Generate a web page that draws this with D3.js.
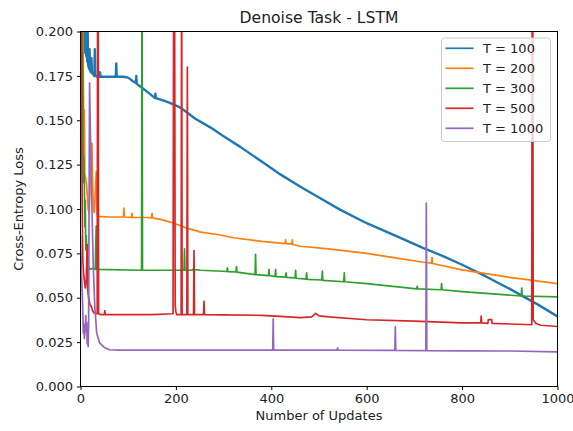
<!DOCTYPE html>
<html>
<head>
<meta charset="utf-8">
<script src="https://cdn.jsdelivr.net/npm/d3@7"></script>
<style>
  body { margin: 0; background: #fff; }
  svg { display: block; font-family: "DejaVu Sans", sans-serif; }
</style>
</head>
<body>
<div id="chart"></div>
<script>
// values: [update, loss]
const t100 = [
  [0, 0.26], [3, 0.23], [5, 0.21], [6, 0.198], [7, 0.215], [8, 0.192], [9, 0.21],
  [10, 0.188], [11, 0.205], [12, 0.186], [13, 0.19], [14, 0.183], [15, 0.2],
  [16, 0.181], [18, 0.179], [19, 0.19], [20, 0.178], [22, 0.177], [23, 0.185],
  [24, 0.177], [26, 0.176], [29, 0.175], [30, 0.19], [31, 0.175], [35, 0.1745],
  [40, 0.1745], [41, 0.177], [42, 0.1745], [74, 0.1745], [75, 0.182], [76, 0.1745],
  [90, 0.1745], [100, 0.174], [110, 0.172], [116, 0.171], [117, 0.175], [118, 0.1705],
  [130, 0.168], [145, 0.165], [156, 0.1625], [157, 0.165], [158, 0.1625], [175, 0.161],
  [195, 0.159], [210, 0.157], [240, 0.151], [272, 0.146], [300, 0.141], [335, 0.135],
  [392, 0.1245], [419, 0.1195], [461, 0.1125], [500, 0.1065], [545, 0.0995], [600, 0.092],
  [660, 0.085], [719, 0.078], [760, 0.0735], [800, 0.0686], [850, 0.062], [900, 0.055],
  [930, 0.0505], [960, 0.046], [1000, 0.0395]
];

const t200 = [
  [0, 0.26], [3, 0.2], [5, 0.21], [7, 0.14], [8, 0.156], [9, 0.12], [11, 0.117],
  [13, 0.113], [16, 0.1], [18, 0.098], [20, 0.11], [22, 0.125], [24, 0.137], [25, 0.12],
  [27, 0.1], [29, 0.098], [31, 0.11], [33, 0.121], [35, 0.097], [38, 0.0958],
  [60, 0.0955], [90, 0.0955], [91, 0.1005], [92, 0.0955], [107, 0.0953], [108, 0.0975],
  [109, 0.0953], [140, 0.0952], [149, 0.095], [150, 0.0975], [151, 0.095], [170, 0.094],
  [190, 0.0925], [196, 0.092], [220, 0.0895], [252, 0.087], [290, 0.0855], [321, 0.0838],
  [380, 0.0818], [429, 0.0805], [430, 0.0826], [431, 0.0805], [443, 0.0802], [444, 0.0826],
  [445, 0.08], [461, 0.079], [520, 0.0775], [600, 0.075], [660, 0.0725], [719, 0.07],
  [736, 0.0695], [737, 0.0727], [738, 0.0693], [800, 0.0657], [900, 0.0615], [1000, 0.058]
];

const t300 = [
  [0, 0.26], [3, 0.23], [4, 0.2], [5, 0.16], [6, 0.115], [7, 0.13], [8, 0.115],
  [9, 0.09], [10, 0.105], [11, 0.077], [12, 0.085], [14, 0.07], [15, 0.055], [16, 0.068],
  [18, 0.067], [20, 0.066], [25, 0.0665], [31, 0.066], [32, 0.08], [33, 0.0905],
  [34, 0.066], [128, 0.0655], [129, 0.26], [130, 0.0655], [217, 0.0655], [218, 0.0776],
  [219, 0.0655], [234, 0.0655], [235, 0.066], [240, 0.0658], [252, 0.0655], [307, 0.0648],
  [308, 0.0668], [309, 0.0647], [326, 0.0645], [327, 0.0675], [328, 0.0644], [366, 0.063],
  [367, 0.0745], [368, 0.063], [394, 0.0625], [395, 0.066], [396, 0.0624], [408, 0.062],
  [409, 0.066], [410, 0.0619], [430, 0.0616], [431, 0.064], [432, 0.0615], [450, 0.0612],
  [451, 0.0655], [452, 0.061], [473, 0.0605], [474, 0.064], [475, 0.0604], [506, 0.06],
  [507, 0.065], [508, 0.0598], [552, 0.059], [553, 0.064], [554, 0.059], [600, 0.058],
  [705, 0.055], [706, 0.0565], [707, 0.055], [756, 0.0545], [757, 0.058], [758, 0.0545],
  [800, 0.0535], [924, 0.051], [925, 0.0554], [926, 0.051], [1000, 0.0505]
];

const t500 = [
  [0, 0.26], [2, 0.2], [3, 0.12], [4, 0.09], [5, 0.07], [7, 0.062], [9, 0.058],
  [10, 0.0556], [12, 0.06], [14, 0.08], [15, 0.055], [17, 0.05], [20, 0.046], [23, 0.045],
  [25, 0.043], [28, 0.0415], [35, 0.041], [36, 0.26], [37, 0.26], [38, 0.041],
  [42, 0.0405], [50, 0.0405], [51, 0.0428], [52, 0.0405], [150, 0.0405], [194, 0.041],
  [195.5, 0.26], [197, 0.26], [198.5, 0.046], [200, 0.042], [202, 0.0405], [211, 0.0405],
  [212, 0.26], [213, 0.0405], [223, 0.0405], [224, 0.18], [225, 0.0405], [237, 0.0405],
  [238, 0.0765], [239, 0.0405], [258, 0.0405], [259, 0.048], [260, 0.0405], [300, 0.0403],
  [380, 0.0401], [419, 0.0395], [461, 0.0388], [485, 0.0392], [493, 0.0412], [500, 0.0398],
  [520, 0.0392], [600, 0.0376], [700, 0.0368], [800, 0.0359], [839, 0.0358], [840, 0.0396],
  [841, 0.0358], [854, 0.0356], [855, 0.0377], [862, 0.0377], [863, 0.0356], [900, 0.0352],
  [946, 0.0348], [947, 0.26], [948, 0.26], [949, 0.0376], [955, 0.0355], [965, 0.0345],
  [1000, 0.0338]
];

const t1000 = [
  [0, 0.085], [2, 0.065], [4, 0.05], [5, 0.04], [6, 0.03], [7, 0.035], [8, 0.027],
  [10, 0.033], [11, 0.04], [12, 0.031], [13, 0.036], [14, 0.024], [15, 0.03], [16, 0.0225],
  [17, 0.035], [19, 0.171], [21, 0.14], [24, 0.1], [27, 0.066], [30, 0.045], [34, 0.03],
  [40, 0.0246], [50, 0.022], [61, 0.0207], [80, 0.0205], [403, 0.0205], [404, 0.038],
  [405, 0.0205], [538, 0.0205], [539, 0.0217], [540, 0.0205], [659, 0.0203], [660, 0.0338],
  [661, 0.0203], [724, 0.0202], [725, 0.1033], [726, 0.0202], [800, 0.0201], [900, 0.02],
  [1000, 0.0195]
];

const seriesNames = ["T = 100", "T = 200", "T = 300", "T = 500", "T = 1000"];
const seriesData = [t100, t200, t300, t500, t1000];
const seriesColors = ["#1f77b4", "#ff7f0e", "#2ca02c", "#d62728", "#9467bd"];
const xTicks = [0, 200, 400, 600, 800, 1000];
const yTicks = [0, 0.025, 0.05, 0.075, 0.1, 0.125, 0.15, 0.175, 0.2];

const W = 573, H = 431;
const plot = { left: 80.5, right: 557.5, top: 31.5, bottom: 386.5 };

const svg = d3.select("#chart").append("svg")
  .attr("width", W).attr("height", H);

const x = d3.scaleLinear().domain([0, 1000]).range([plot.left, plot.right]);
const y = d3.scaleLinear().domain([0, 0.2]).range([plot.bottom, plot.top]);

svg.append("clipPath").attr("id", "clip")
  .append("rect")
  .attr("x", plot.left).attr("y", plot.top)
  .attr("width", plot.right - plot.left).attr("height", plot.bottom - plot.top);

const line = d3.line().x((d) => x(d[0])).y((d) => y(d[1]));

const lines = svg.append("g").attr("clip-path", "url(#clip)");
seriesData.forEach((data, i) => {
  lines.append("path")
    .datum(data)
    .attr("fill", "none")
    .attr("stroke", seriesColors[i])
    .attr("stroke-width", i === 0 ? 2.4 : 1.7)
    .attr("stroke-linejoin", "round")
    .attr("d", line);
});

// axes
const xAxis = svg.append("g")
  .attr("transform", `translate(0,${plot.bottom})`)
  .call(d3.axisBottom(x).tickValues(xTicks).tickFormat(d3.format("d"))
    .tickSize(3.5).tickSizeOuter(0).tickPadding(4));
const yAxis = svg.append("g")
  .attr("transform", `translate(${plot.left},0)`)
  .call(d3.axisLeft(y).tickValues(yTicks).tickFormat(d3.format(".3f"))
    .tickSize(3.5).tickSizeOuter(0).tickPadding(4));

[xAxis, yAxis].forEach((g) => {
  g.select(".domain").remove();
  g.selectAll("line").attr("stroke", "#000");
  g.selectAll("text")
    .attr("fill", "#222")
    .style("font-family", "DejaVu Sans")
    .style("font-size", "13px");
});

// spines
svg.append("rect")
  .attr("x", plot.left).attr("y", plot.top)
  .attr("width", plot.right - plot.left).attr("height", plot.bottom - plot.top)
  .attr("fill", "none").attr("stroke", "#000").attr("stroke-width", 1);

svg.append("text")
  .attr("x", (plot.left + plot.right) / 2).attr("y", 22.5)
  .attr("text-anchor", "middle")
  .style("font-size", "15.6px").attr("fill", "#222")
  .text("Denoise Task - LSTM");

svg.append("text")
  .attr("x", (plot.left + plot.right) / 2).attr("y", 420)
  .attr("text-anchor", "middle")
  .style("font-size", "13px").attr("fill", "#222")
  .text("Number of Updates");

svg.append("text")
  .attr("transform", `translate(22.5,${(plot.top + plot.bottom) / 2}) rotate(-90)`)
  .attr("text-anchor", "middle")
  .style("font-size", "13px").attr("fill", "#222")
  .text("Cross-Entropy Loss");

// legend
const legend = svg.append("g").attr("transform", "translate(441.5,38)");
legend.append("rect")
  .attr("width", 109).attr("height", 103.5).attr("rx", 3)
  .attr("fill", "#fff").attr("fill-opacity", 0.8)
  .attr("stroke", "#ccc").attr("stroke-width", 1);

const items = legend.selectAll(".legend-item")
  .data(seriesNames)
  .enter()
  .append("g")
  .attr("class", "legend-item")
  .attr("transform", (d, i) => `translate(0,${10.3 + i * 20})`);

items.append("line")
  .attr("x1", 4).attr("x2", 32)
  .attr("stroke", (d, i) => seriesColors[i])
  .attr("stroke-width", 1.7);

items.append("text")
  .attr("x", 41.5).attr("dy", "0.35em")
  .style("font-size", "13px").attr("fill", "#222")
  .text((d) => d);
</script>
</body>
</html>
